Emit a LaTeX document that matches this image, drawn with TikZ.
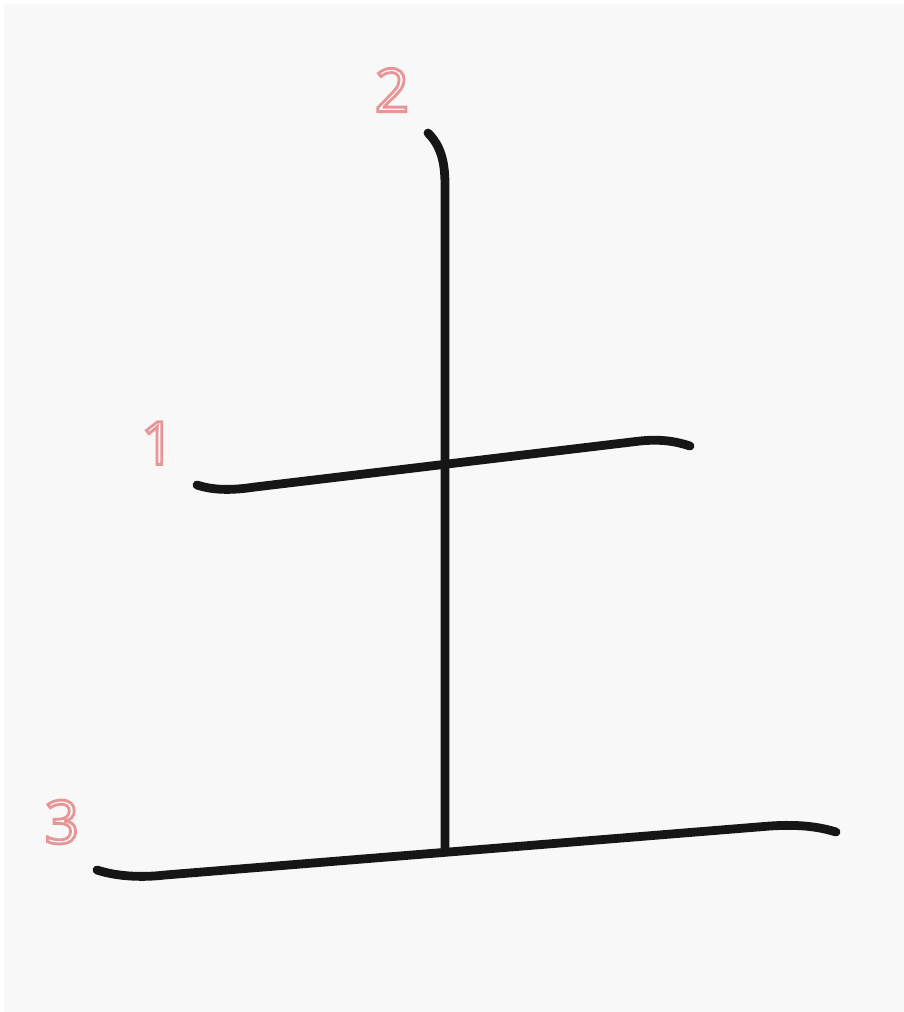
\documentclass[tikz,border=0pt]{standalone}
\usepackage{fontspec}
\setsansfont{Open Sans}
\usepackage{xcolor}
\definecolor{paper}{RGB}{248,248,248}
\definecolor{inkblack}{RGB}{22,22,22}
\definecolor{numpink}{RGB}{230,150,150}
\usetikzlibrary{positioning}

% hollow (outlined) digits
\newcommand{\hollow}[1]{\special{pdf:literal 1 Tr 0.8 w}#1\special{pdf:literal 0 Tr}}

\tikzset{
  strokeline/.style={draw=inkblack, line width=2.5pt, line cap=round, line join=round},
  ordernum/.style={text=numpink, font=\sffamily\fontsize{17}{17}\selectfont, inner sep=0pt}
}

\begin{document}
\begin{tikzpicture}[x=0.01cm, y=-0.01cm]

% Canvas
\fill[white] (0,0) rectangle (904,1012);
\fill[paper] (4,4) rectangle (904,1012);
\useasboundingbox (0,0) rectangle (904,1012);

% Stroke 1: upper horizontal
\coordinate (s1a) at (197,485);
\coordinate (s1b) at (690,446);
\draw[strokeline] (s1a) .. controls (215,491) and (235,490) .. (255,487)
      -- (640,441) .. controls (660,439) and (675,441) .. (s1b);

% Stroke 2: vertical
\coordinate (s2a) at (428,133);
\coordinate (s2b) at (445,852);
\draw[strokeline] (s2a) .. controls (440,145) and (445,160) .. (445,185) -- (s2b);

% Stroke 3: bottom horizontal
\coordinate (s3a) at (97,870);
\coordinate (s3b) at (836,832);
\draw[strokeline] (s3a) .. controls (115,876) and (140,878) .. (165,875)
      -- (770,826) .. controls (800,824) and (820,827) .. (s3b);

% Stroke order numbers
\node[ordernum] (n1) at (158,443) {\hollow{1}};
\node[ordernum] (n2) at (392,90) {\hollow{2}};
\node[ordernum] (n3) at (62,822) {\hollow{3}};

\end{tikzpicture}
\end{document}
